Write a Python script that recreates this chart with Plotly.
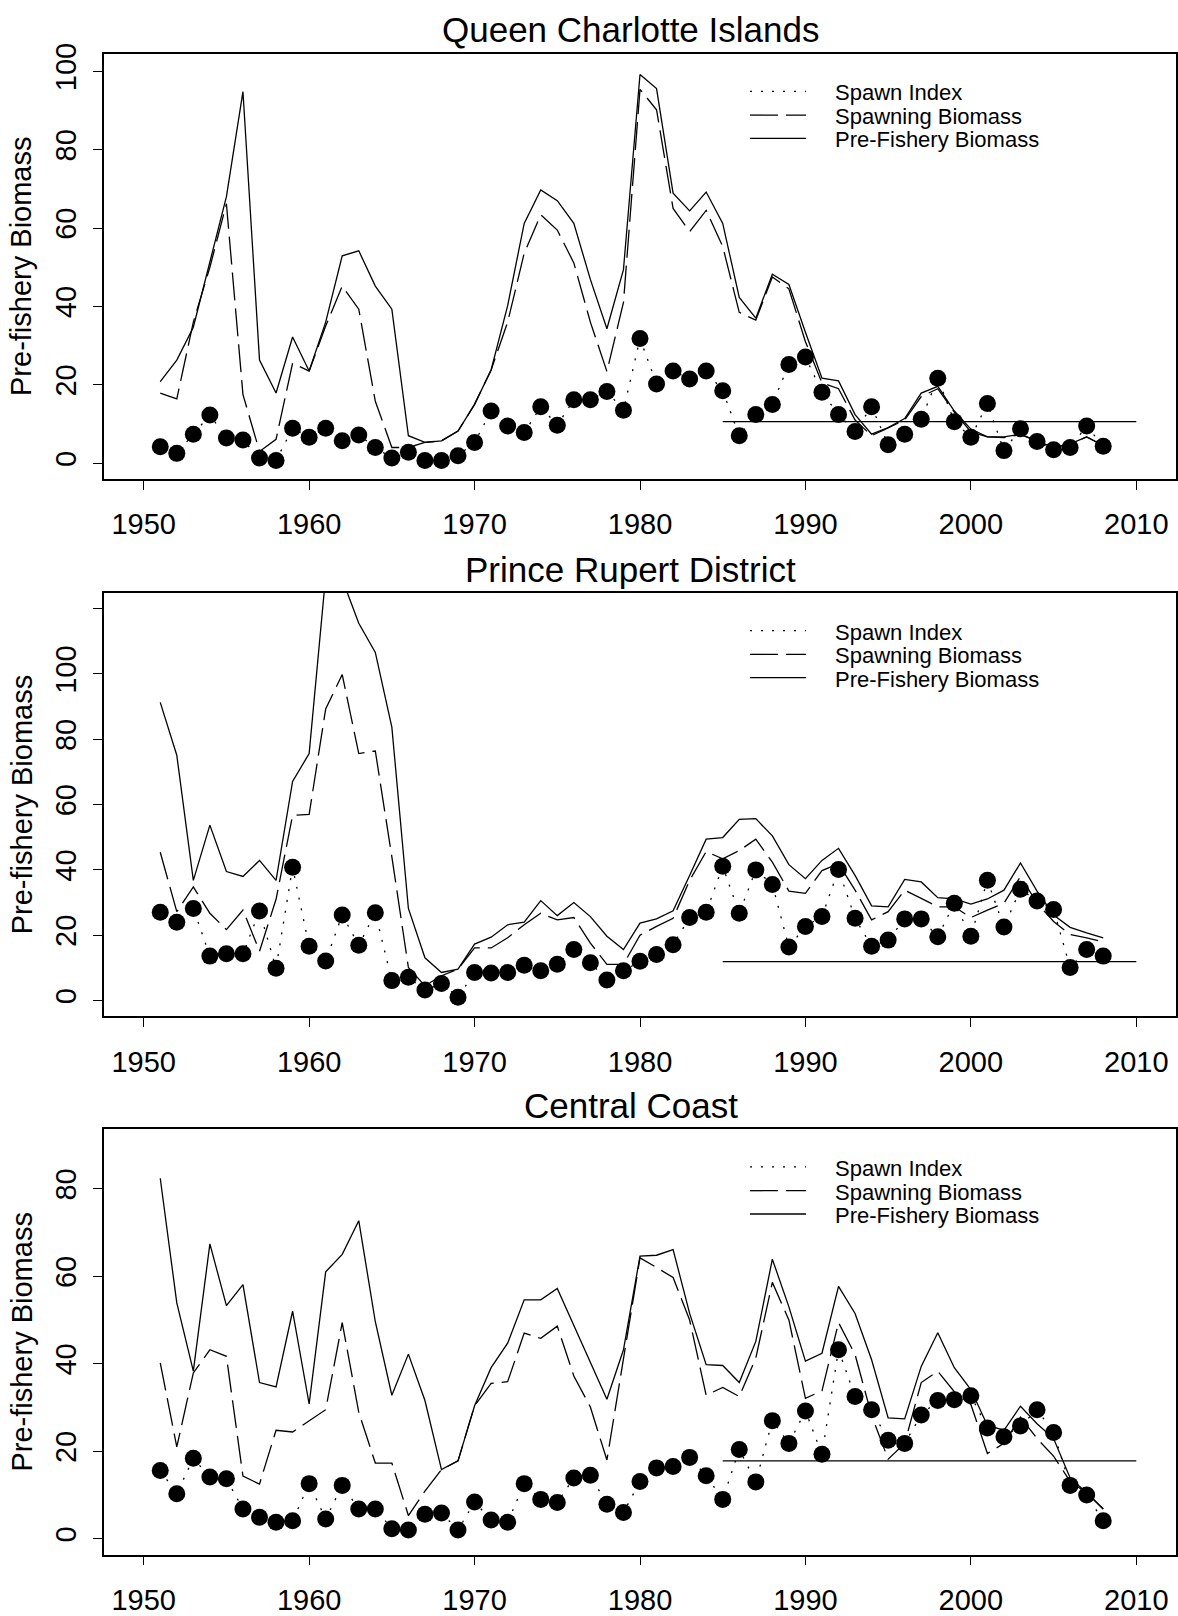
import plotly.graph_objects as go

# ---- data -------------------------------------------------------------
years = list(range(1951, 2009))
x_ticks = [1950, 1960, 1970, 1980, 1990, 2000, 2010]
cutoff_years = [1985, 2010]

regions = ["Queen Charlotte Islands", "Prince Rupert District", "Central Coast"]

qci_prefishery = [20.8, 26.3, 34.7, 51.0, 68.0, 94.8, 26.3, 17.9, 32.2, 23.5,
                  36.0, 52.9, 54.2, 45.2, 39.3, 7.0, 5.3, 5.7, 8.2, 15.0,
                  23.8, 40.2, 61.2, 69.7, 67.0, 61.2, 46.9, 34.3, 49.4, 99.2,
                  95.6, 68.9, 64.4, 69.2, 61.2, 42.3, 37.0, 48.2, 45.6, 33.4,
                  21.7, 21.0, 12.4, 7.4, 9.1, 11.4, 17.9, 19.6, 13.3, 8.7,
                  6.7, 6.7, 7.4, 5.7, 4.0, 4.9, 6.7, 4.5]
qci_spawning = [17.9, 16.4, 36.0, 50.0, 66.2, 17.5, 3.0, 6.1, 25.5, 23.5,
                35.0, 45.2, 39.3, 15.8, 4.0, 4.0, 5.3, 5.7, 8.2, 15.0,
                23.8, 36.0, 53.6, 63.4, 59.5, 51.1, 36.0, 23.4, 41.0, 95.4,
                90.2, 65.0, 59.1, 64.5, 55.3, 38.5, 36.5, 47.5, 44.5, 31.0,
                20.5, 19.0, 11.0, 7.0, 9.0, 11.0, 17.0, 19.0, 13.0, 8.0,
                6.7, 6.5, 7.3, 5.7, 4.0, 4.9, 6.7, 4.5]
qci_spawn_index = [4.2, 2.5, 7.4, 12.3, 6.4, 5.9, 1.3, 0.7, 8.9, 6.6,
                   8.9, 5.7, 7.2, 4.0, 1.3, 2.8, 0.7, 0.7, 1.9, 5.3,
                   13.3, 9.5, 7.8, 14.4, 9.7, 16.2, 16.2, 18.3, 13.5, 31.8,
                   20.2, 23.5, 21.5, 23.5, 18.5, 7.0, 12.4, 15.0, 25.2, 27.1,
                   18.1, 12.4, 8.1, 14.4, 4.7, 7.4, 11.2, 21.7, 10.6, 6.6,
                   15.2, 3.2, 8.8, 5.5, 3.4, 4.0, 9.5, 4.3]
qci_cutoff = 10.6

prd_prefishery = [91.3, 75.1, 36.8, 53.7, 39.5, 38.0, 42.9, 36.8, 67.1, 75.6,
                  130.0, 129.0, 115.5, 106.6, 83.7, 28.2, 13.1, 8.6, 9.6, 17.3,
                  19.4, 23.2, 24.0, 30.6, 26.0, 30.0, 25.7, 19.7, 15.6, 23.7,
                  25.0, 27.5, 38.3, 49.4, 49.9, 55.5, 55.7, 50.4, 41.6, 37.3,
                  42.9, 46.6, 38.3, 29.0, 28.7, 37.1, 36.3, 31.5, 31.1, 29.5,
                  31.1, 33.8, 42.1, 33.5, 26.2, 22.4, 20.7, 19.2]
prd_spawning = [45.4, 27.2, 34.8, 26.7, 21.7, 27.7, 15.1, 31.0, 56.7, 57.0,
                89.3, 99.8, 75.6, 76.4, 44.0, 10.1, 4.5, 7.6, 9.6, 16.1,
                16.1, 19.2, 23.2, 26.7, 24.7, 25.4, 17.6, 11.1, 11.1, 20.0,
                22.7, 25.2, 36.8, 45.6, 43.4, 45.9, 49.4, 42.4, 33.5, 32.8,
                39.8, 41.9, 33.8, 24.7, 27.2, 33.8, 31.3, 28.7, 28.7, 25.4,
                27.7, 29.8, 38.0, 29.8, 24.2, 20.2, 19.2, 18.0]
prd_spawn_index = [27.0, 24.0, 28.2, 13.6, 14.3, 14.3, 27.4, 9.9, 40.8, 16.6,
                   12.1, 26.2, 16.9, 26.9, 6.1, 7.1, 3.2, 5.2, 1.0, 8.6,
                   8.4, 8.6, 10.8, 9.1, 11.1, 15.6, 11.6, 6.3, 9.1, 12.0,
                   14.1, 17.1, 25.4, 27.0, 41.1, 26.7, 40.0, 35.5, 16.4, 22.7,
                   25.7, 40.1, 25.2, 16.6, 18.5, 25.0, 25.0, 19.5, 29.8, 19.7,
                   36.8, 22.5, 34.1, 30.5, 27.9, 10.1, 15.6, 13.6]
prd_cutoff = 11.9

cc_prefishery = [82.4, 53.9, 38.3, 67.4, 53.3, 58.1, 35.7, 34.7, 52.0, 30.8,
                 61.0, 65.0, 72.7, 49.6, 32.8, 42.2, 31.6, 15.8, 17.8, 30.4,
                 39.1, 44.7, 54.6, 54.6, 57.2, 48.8, 40.6, 31.9, 43.2, 64.6,
                 64.8, 66.1, 51.5, 39.8, 39.6, 35.7, 45.1, 63.9, 53.0, 40.6,
                 42.4, 57.7, 51.5, 40.9, 27.6, 27.4, 39.4, 47.1, 39.1, 34.1,
                 25.9, 24.8, 30.3, 26.3, 22.9, 13.9, 10.5, 6.8]
cc_spawning = [40.2, 21.0, 37.9, 43.2, 41.7, 14.3, 12.5, 24.8, 24.4, 27.0,
               29.5, 49.4, 28.9, 17.3, 17.3, 5.3, 10.9, 15.8, 17.8, 30.4,
               35.5, 35.9, 47.0, 45.8, 48.6, 37.2, 30.1, 18.0, 40.9, 64.2,
               62.0, 59.7, 50.0, 32.8, 34.6, 32.5, 41.3, 58.6, 50.0, 32.1,
               33.8, 49.4, 42.1, 28.2, 18.2, 21.8, 35.7, 38.3, 33.6, 30.7,
               19.5, 21.8, 27.8, 22.9, 18.9, 13.1, 10.5, 6.8]
cc_spawn_index = [15.6, 10.3, 18.4, 14.1, 13.7, 6.8, 4.9, 3.8, 4.1, 12.6,
                  4.5, 12.2, 6.8, 6.8, 2.3, 2.0, 5.6, 5.9, 2.0, 8.4,
                  4.3, 3.8, 12.6, 9.0, 8.3, 13.9, 14.5, 7.9, 6.0, 13.1,
                  16.2, 16.5, 18.6, 14.4, 9.0, 20.4, 13.0, 27.0, 21.8, 29.2,
                  19.3, 43.2, 32.5, 29.5, 22.5, 21.8, 28.3, 31.6, 31.8, 32.7,
                  25.3, 23.3, 25.8, 29.5, 24.3, 12.2, 10.0, 4.1]
cc_cutoff = 17.8

y_tick_vals = [
    [0, 20, 40, 60, 80, 100],
    [0, 20, 40, 60, 80, 100, 120],
    [0, 20, 40, 60, 80],
]
y_tick_text = [
    ["0", "20", "40", "60", "80", "100"],
    ["0", "20", "40", "60", "80", "100", ""],
    ["0", "20", "40", "60", "80"],
]
y_ranges = [[-4.02, 104.52], [-4.8, 124.8], [-3.6, 93.6]]

legend_labels = ["Spawn Index", "Spawning Biomass", "Pre-Fishery Biomass"]
y_title = "Pre-fishery Biomass"

panels = [
    (qci_prefishery, qci_spawning, qci_spawn_index, qci_cutoff),
    (prd_prefishery, prd_spawning, prd_spawn_index, prd_cutoff),
    (cc_prefishery, cc_spawning, cc_spawn_index, cc_cutoff),
]

# ---- layout geometry (pixels) ------------------------------------------
W, H = 1178, 1616
BOX_LEFT, BOX_RIGHT = 104, 1176
BOX_TOPS = [43, 587, 1128]
BOX_BOTTOMS = [472, 1014, 1557]

FONT = "Liberation Sans, Arial, Helvetica, sans-serif"
DASH_LONG = "28px,8px"
DASH_DOT = "2px,9px"
LW = 1.3


def px_x(px):
    return px / W


def px_y(px):
    return 1 - px / H


fig = go.Figure()
shapes = []
annotations = []

for i, (pre, spawn, idx, cut) in enumerate(panels):
    n = i + 1
    xa = "x" if n == 1 else f"x{n}"
    ya = "y" if n == 1 else f"y{n}"

    fig.add_trace(go.Scatter(
        x=years, y=spawn, mode="lines", xaxis=xa, yaxis=ya,
        line=dict(color="black", width=LW, dash=DASH_LONG),
        showlegend=False, hoverinfo="skip"))
    fig.add_trace(go.Scatter(
        x=years, y=pre, mode="lines", xaxis=xa, yaxis=ya,
        line=dict(color="black", width=LW),
        showlegend=False, hoverinfo="skip"))
    fig.add_trace(go.Scatter(
        x=years, y=idx, mode="lines+markers", xaxis=xa, yaxis=ya,
        line=dict(color="black", width=LW, dash=DASH_DOT),
        marker=dict(color="black", size=17, symbol="circle"),
        showlegend=False, hoverinfo="skip"))
    fig.add_trace(go.Scatter(
        x=cutoff_years, y=[cut, cut], mode="lines", xaxis=xa, yaxis=ya,
        line=dict(color="black", width=LW),
        showlegend=False, hoverinfo="skip"))

    top, bottom = BOX_TOPS[i], BOX_BOTTOMS[i]
    axis_common = dict(
        showline=True, mirror=True, linecolor="black", linewidth=1.5,
        showgrid=False, zeroline=False, ticks="outside", ticklen=9,
        tickwidth=1.3, tickcolor="black",
        tickfont=dict(family=FONT, size=29, color="black"),
    )
    fig.update_layout(**{
        ("xaxis" if n == 1 else f"xaxis{n}"): dict(
            domain=[px_x(BOX_LEFT), px_x(BOX_RIGHT)], anchor=ya,
            range=[1947.6, 2012.4], tickvals=x_ticks,
            ticklabelstandoff=10, **axis_common),
        ("yaxis" if n == 1 else f"yaxis{n}"): dict(
            domain=[px_y(bottom), px_y(top)], anchor=xa,
            range=y_ranges[i], tickvals=y_tick_vals[i],
            ticktext=y_tick_text[i], tickangle=-90,
            ticklabelstandoff=6, **axis_common),
    })

    # panel title
    annotations.append(dict(
        text=regions[i], xref="paper", yref="paper",
        x=px_x(630.5), y=px_y(top - 24), xanchor="center", yanchor="middle",
        showarrow=False, font=dict(family=FONT, size=35, color="black")))
    # y-axis title
    annotations.append(dict(
        text=y_title, xref="paper", yref="paper", textangle=-90,
        x=px_x(21.7), y=px_y((top + bottom) / 2), xanchor="center",
        yanchor="middle", showarrow=False,
        font=dict(family=FONT, size=29, color="black")))

    # legend key
    dashes = [DASH_DOT, DASH_LONG, "solid"]
    offsets = [38, 62, 85.5]
    for lab, dsh, off in zip(legend_labels, dashes, offsets):
        shapes.append(dict(
            type="line", xref="paper", yref="paper",
            x0=px_x(750), x1=px_x(806), y0=px_y(top + off), y1=px_y(top + off),
            line=dict(color="black", width=LW, dash=dsh)))
        annotations.append(dict(
            text=lab, xref="paper", yref="paper",
            x=px_x(833), y=px_y(top + off + 1.5), xanchor="left",
            yanchor="middle", showarrow=False,
            font=dict(family=FONT, size=22, color="black")))

fig.update_layout(
    width=W, height=H, margin=dict(l=0, r=0, t=0, b=0),
    paper_bgcolor="white", plot_bgcolor="white",
    shapes=shapes, annotations=annotations, showlegend=False,
)

fig.write_html("out.html")
